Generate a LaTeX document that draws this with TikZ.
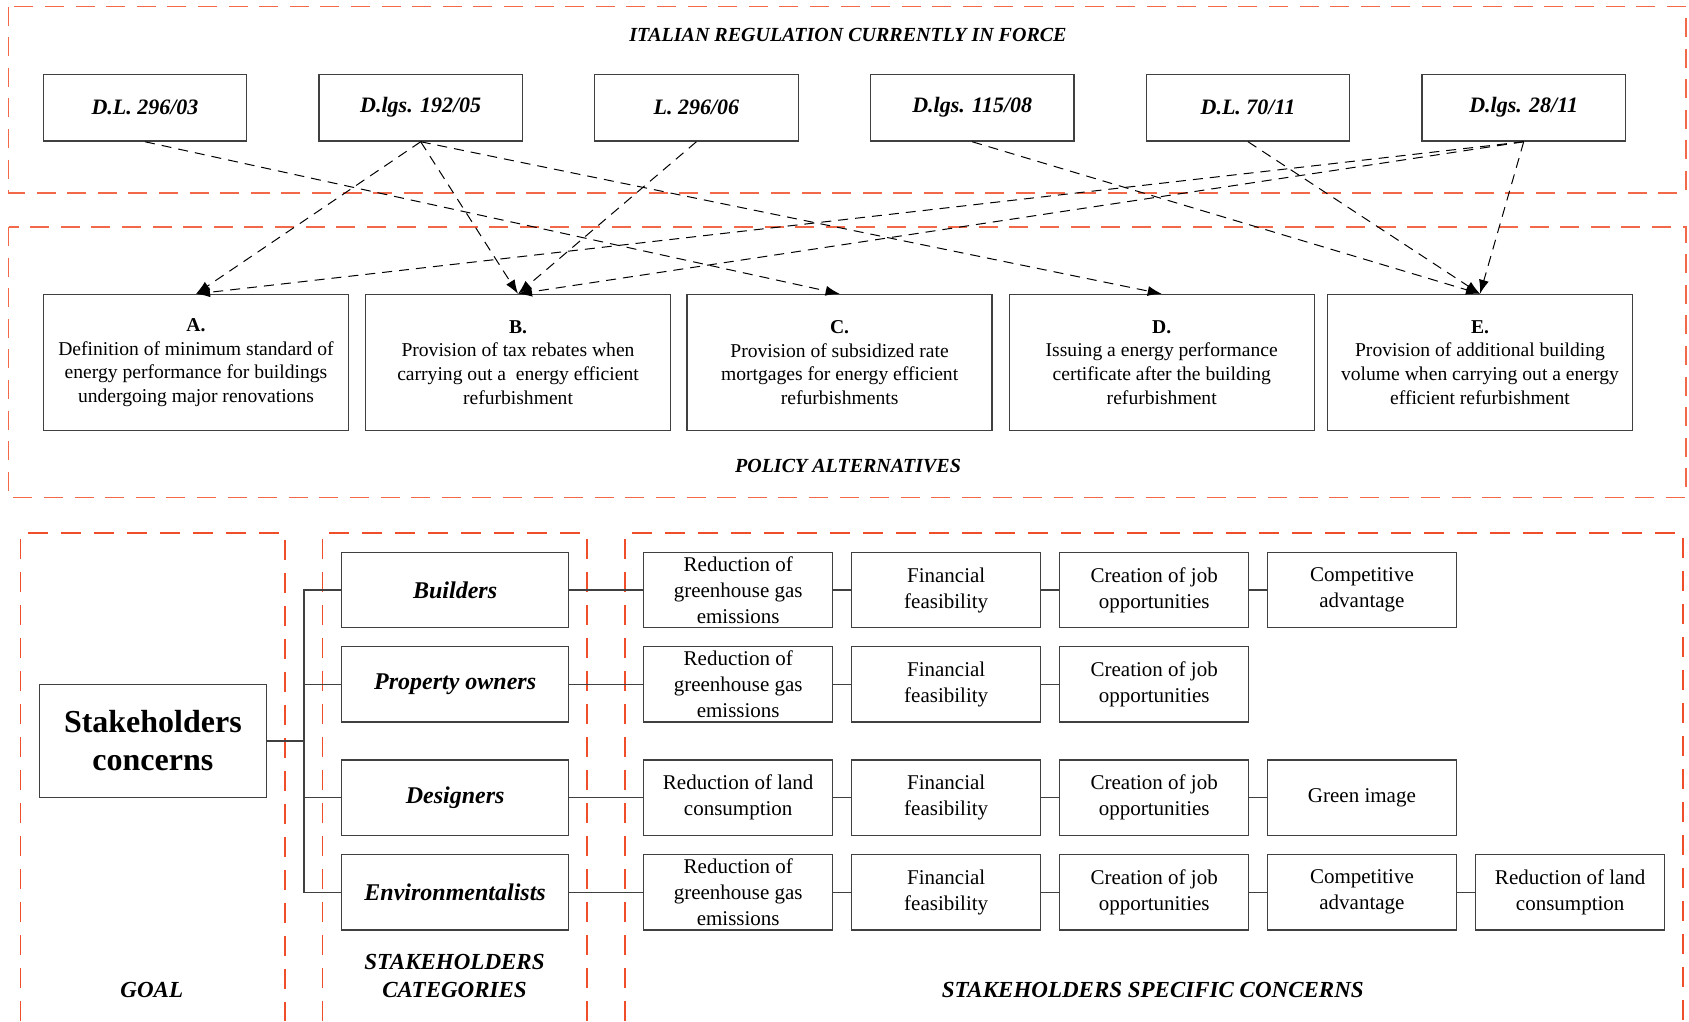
\documentclass[tikz,border=0pt]{standalone}
\usepackage{fontspec}
\setmainfont{Liberation Serif}
\usetikzlibrary{arrows.meta,positioning}
\definecolor{framered}{RGB}{240,78,42}

\begin{document}
\begin{tikzpicture}[x=0.5pt, y=-0.5pt,
  box/.style={draw=black!75, line width=0.65pt, align=center, inner sep=0pt},
  lawbox/.style={box, minimum width=101.8pt, minimum height=33.4pt, font=\fontsize{11}{13}\selectfont\bfseries\itshape},
  policybox/.style={box, minimum width=152.5pt, minimum height=68pt, font=\fontsize{9.8}{11.85}\selectfont},
  goalbox/.style={box, minimum width=113.6pt, minimum height=56.7pt, font=\fontsize{16}{19}\selectfont\bfseries},
  catbox/.style={box, minimum width=113.6pt, minimum height=37.7pt, font=\fontsize{12}{14}\selectfont\bfseries\itshape},
  concernbox/.style={box, minimum width=94.5pt, minimum height=37.7pt, font=\fontsize{10.5}{13}\selectfont},
  heading/.style={font=\fontsize{10}{12}\selectfont\bfseries\itshape},
  colheading/.style={font=\fontsize{11.5}{14}\selectfont\bfseries\itshape, align=center},
  regframe/.style={draw=framered!85, line width=0.65pt, dash pattern=on 9.5pt off 5.8pt},
  colframe/.style={draw=framered, line width=0.65pt, dash pattern=on 10pt off 6.5pt},
  refarrow/.style={-{Latex[length=7pt,width=5pt]}, line width=0.5pt, dash pattern=on 5pt off 3.5pt},
  link/.style={draw=black!75, line width=0.65pt}]
\useasboundingbox (0,0) rectangle (1689,1021);

% Regulation in force
\draw[regframe] (8.6,6.7) rectangle (1686,193);
\node[heading] (lawtitle) at (848,34.5) {ITALIAN REGULATION CURRENTLY IN FORCE};
\node[lawbox] (dl03) at (145,107.7) {D.L. 296/03};
\node[lawbox] (dlgs05) at (420.7,107.7) {D.lgs. 192/05};
\node[lawbox] (l06) at (696.4,107.7) {L. 296/06};
\node[lawbox] (dlgs08) at (972.2,107.7) {D.lgs. 115/08};
\node[lawbox] (dl11) at (1248,107.7) {D.L. 70/11};
\node[lawbox] (dlgs11) at (1523.7,107.7) {D.lgs. 28/11};

% Policy alternatives
\draw[regframe] (8.6,227) rectangle (1686,497.7);
\node[heading] (poltitle) at (848,466.4) {POLICY ALTERNATIVES};
\node[policybox] (polA) at (196,362.5) {\textbf{A.}\\Definition of minimum standard of\\energy performance for buildings\\undergoing major renovations};
\node[policybox] (polB) at (518,362.5) {\textbf{B.}\\Provision of tax rebates when\\carrying out a~ energy efficient\\refurbishment};
\node[policybox] (polC) at (839.6,362.5) {\textbf{C.}\\Provision of subsidized rate\\mortgages for energy efficient\\refurbishments};
\node[policybox] (polD) at (1161.7,362.5) {\textbf{D.}\\Issuing a energy performance\\certificate after the building\\refurbishment};
\node[policybox] (polE) at (1480,362.5) {\textbf{E.}\\Provision of additional building\\volume when carrying out a energy\\efficient refurbishment};

% Regulation -> policy
\draw[refarrow] (dl03.south) -- (polC.north);
\draw[refarrow] (dlgs05.south) -- (polA.north);
\draw[refarrow] (dlgs05.south) -- (polB.north);
\draw[refarrow] (dlgs05.south) -- (polD.north);
\draw[refarrow] (l06.south) -- (polB.north);
\draw[refarrow] (dlgs08.south) -- (polE.north);
\draw[refarrow] (dl11.south) -- (polE.north);
\draw[refarrow] (dlgs11.south) -- (polA.north);
\draw[refarrow] (dlgs11.south) -- (polB.north);
\draw[refarrow] (dlgs11.south) -- (polE.north);

% Goal
\draw[colframe] (20.5,1021) |- (285,533) -- (285,1021);
\node[goalbox] (goal) at (152.9,741) {Stakeholders\\concerns};
\node[colheading] (goaltitle) at (151.8,990) {GOAL};

% Stakeholders categories
\draw[colframe] (322.3,1021) |- (587,533) -- (587,1021);
\node[catbox] (builders) at (455.1,590) {Builders};
\node[catbox] (owners) at (455.1,684.3) {Property owners};
\node[catbox] (designers) at (455.1,797.7) {Designers};
\node[catbox] (envs) at (455.1,892.2) {Environmentalists};
\node[colheading] (cattitle) at (454.5,976) {STAKEHOLDERS\\CATEGORIES};
\coordinate (trunk) at (304,741);
\draw[link] (goal.east) -- (trunk);
\draw[link] (builders.west) -| (trunk);
\draw[link] (owners.west) -| (trunk);
\draw[link] (designers.west) -| (trunk);
\draw[link] (envs.west) -| (trunk);

% Stakeholders specific concerns
\draw[colframe] (625,1021) |- (1683,533) -- (1683,1021);
\node[colheading] (contitle) at (1152.8,990) {STAKEHOLDERS SPECIFIC CONCERNS};
\node[concernbox] (b1) at (738.2,590) {Reduction of\\greenhouse gas\\emissions};
\node[concernbox] (b2) at (946.2,590) {Financial\\feasibility};
\node[concernbox] (b3) at (1154.2,590) {Creation of job\\opportunities};
\node[concernbox] (b4) at (1361.9,590) {Competitive\\advantage};
\node[concernbox] (p1) at (738.2,684.3) {Reduction of\\greenhouse gas\\emissions};
\node[concernbox] (p2) at (946.2,684.3) {Financial\\feasibility};
\node[concernbox] (p3) at (1154.2,684.3) {Creation of job\\opportunities};
\node[concernbox] (d1) at (738.2,797.7) {Reduction of land\\consumption};
\node[concernbox] (d2) at (946.2,797.7) {Financial\\feasibility};
\node[concernbox] (d3) at (1154.2,797.7) {Creation of job\\opportunities};
\node[concernbox] (d4) at (1361.9,797.7) {Green image};
\node[concernbox] (e1) at (738.2,892.2) {Reduction of\\greenhouse gas\\emissions};
\node[concernbox] (e2) at (946.2,892.2) {Financial\\feasibility};
\node[concernbox] (e3) at (1154.2,892.2) {Creation of job\\opportunities};
\node[concernbox] (e4) at (1361.9,892.2) {Competitive\\advantage};
\node[concernbox] (e5) at (1570.2,892.2) {Reduction of land\\consumption};
\draw[link] (builders) -- (b1) -- (b2) -- (b3) -- (b4);
\draw[link] (owners) -- (p1) -- (p2) -- (p3);
\draw[link] (designers) -- (d1) -- (d2) -- (d3) -- (d4);
\draw[link] (envs) -- (e1) -- (e2) -- (e3) -- (e4) -- (e5);
\end{tikzpicture}
\end{document}
